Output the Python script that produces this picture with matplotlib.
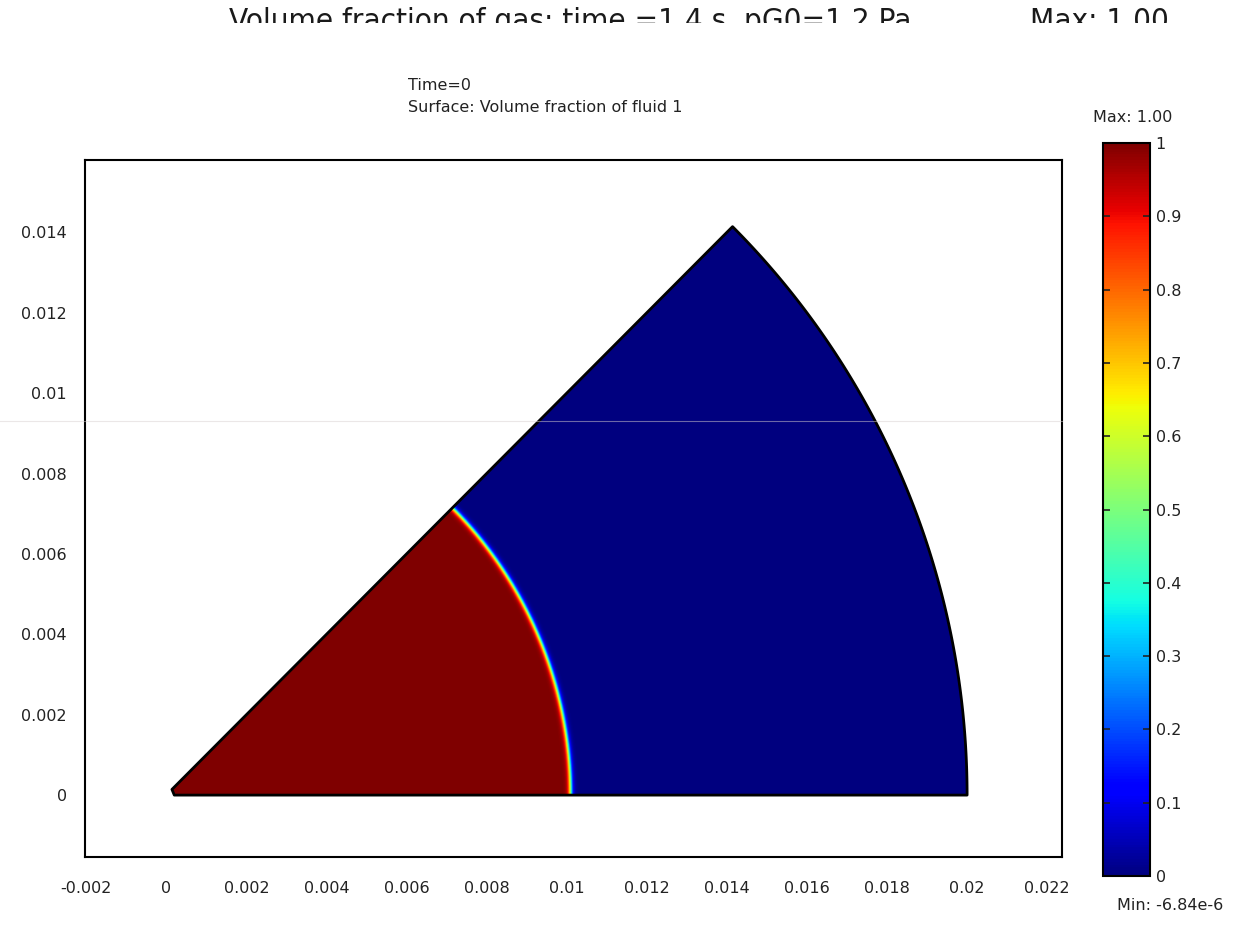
import numpy as np
import matplotlib
matplotlib.use("Agg")
import matplotlib.pyplot as plt
from matplotlib.patches import Polygon, Rectangle
from matplotlib.lines import Line2D

# geometry of the 45 degree wedge (m) and the initial fluid-1 region
R_INNER = 0.0002
R_OUTER = 0.02
WEDGE_DEG = 45.0
R_FRONT = 0.0101
FRONT_WIDTH = 0.00007

X_TICKS = [-0.002, 0, 0.002, 0.004, 0.006, 0.008, 0.01, 0.012, 0.014, 0.016, 0.018, 0.02, 0.022]
Y_TICKS = [0, 0.002, 0.004, 0.006, 0.008, 0.01, 0.012, 0.014]
CB_TICKS = [0, 0.1, 0.2, 0.3, 0.4, 0.5, 0.6, 0.7, 0.8, 0.9, 1]
VMAX_TXT = "Max: 1.00"
VMIN_TXT = "Min: -6.84e-6"
TITLE_1 = "Time=0"
TITLE_2 = "Surface: Volume fraction of fluid 1"
OLD_TITLE = "Volume fraction of gas; time =1.4 s, pG0=1.2 Pa"

W, H = 1237, 926
fig = plt.figure(figsize=(W / 100, H / 100), dpi=100)
INK = "#222222"

def px(x0, y0, x1, y1):
    return [x0 / W, 1 - y1 / H, (x1 - x0) / W, (y1 - y0) / H]

ax = fig.add_axes(px(85, 160, 1062, 857))
xlim = (-0.00203, 0.02237)
ylim = (-0.00154, 0.0158)

# volume fraction on a fine grid, clipped to the wedge
nx, ny = 1400, 1000
xs = np.linspace(*xlim, nx)
ys = np.linspace(*ylim, ny)
X, Y = np.meshgrid(xs, ys)
R = np.hypot(X, Y)
phi = 0.5 * (1 - np.tanh((R - R_FRONT) / FRONT_WIDTH))

th = np.radians(np.linspace(0, WEDGE_DEG, 200))
outline = np.vstack([np.column_stack([R_OUTER * np.cos(th), R_OUTER * np.sin(th)]),
                     [[R_INNER * np.cos(th[-1]), R_INNER * np.sin(th[-1])],
                      [R_INNER, 0]]])
wedge = Polygon(outline, closed=True, facecolor="none", edgecolor="black",
                lw=2, joinstyle="round", zorder=3)
ax.add_patch(wedge)

im = ax.imshow(phi, cmap="jet", vmin=0, vmax=1, origin="lower",
               extent=(*xlim, *ylim), interpolation="bilinear", zorder=2)
im.set_clip_path(wedge)

ax.set_xlim(*xlim)
ax.set_ylim(*ylim)
ax.set_aspect("auto")
ax.set_xticks(X_TICKS)
ax.set_xticklabels([f"{v:g}" for v in X_TICKS])
ax.set_yticks(Y_TICKS)
ax.set_yticklabels([f"{v:g}" for v in Y_TICKS])
ax.tick_params(length=0, labelsize=11.5, colors=INK)
ax.tick_params(axis="x", pad=17)
ax.tick_params(axis="y", pad=13)
for s in ax.spines.values():
    s.set_linewidth(1.5)

fig.text(408 / W, 1 - 86 / H, TITLE_1, ha="left", va="center", fontsize=11.5, color=INK)
fig.text(408 / W, 1 - 108 / H, TITLE_2, ha="left", va="center", fontsize=11.5, color=INK)

# colorbar
cax = fig.add_axes(px(1103, 143, 1150, 876))
cb = fig.colorbar(im, cax=cax, ticks=CB_TICKS)
cb.ax.set_yticklabels([f"{v:g}" for v in CB_TICKS])
cb.ax.tick_params(direction="in", length=5, width=1.2, left=True, right=True,
                  labelsize=11.5, pad=4, colors=INK)
cb.outline.set_linewidth(1.5)
fig.text(1133 / W, 1 - 118 / H, VMAX_TXT, ha="center", va="center", fontsize=11.5, color=INK)
fig.text(1170 / W, 1 - 905 / H, VMIN_TXT, ha="center", va="center", fontsize=11.5, color=INK)

# header of the previous frame, cut off at the top of the image
fig.text(229 / W, 1 - 30 / H, OLD_TITLE, ha="left", va="baseline", fontsize=22.5,
         family=["DejaVu Sans"], fontstretch="condensed", color="#1a1a1a")
fig.text(1030 / W, 1 - 30 / H, "Max: 1.00", ha="left", va="baseline", fontsize=22.5,
         family=["DejaVu Sans"], fontstretch="condensed", color="#1a1a1a")
fig.add_artist(Rectangle((0, 1 - 60 / H), 1, (60 - 23) / H, transform=fig.transFigure,
                         facecolor="white", edgecolor="none", zorder=10))

# faint seam across the middle
fig.add_artist(Line2D([0, 1062 / W], [1 - 421 / H] * 2, transform=fig.transFigure,
                      color="#d8d0d0", lw=0.8, alpha=0.5, zorder=10))

fig.savefig("out.png", dpi=100)
